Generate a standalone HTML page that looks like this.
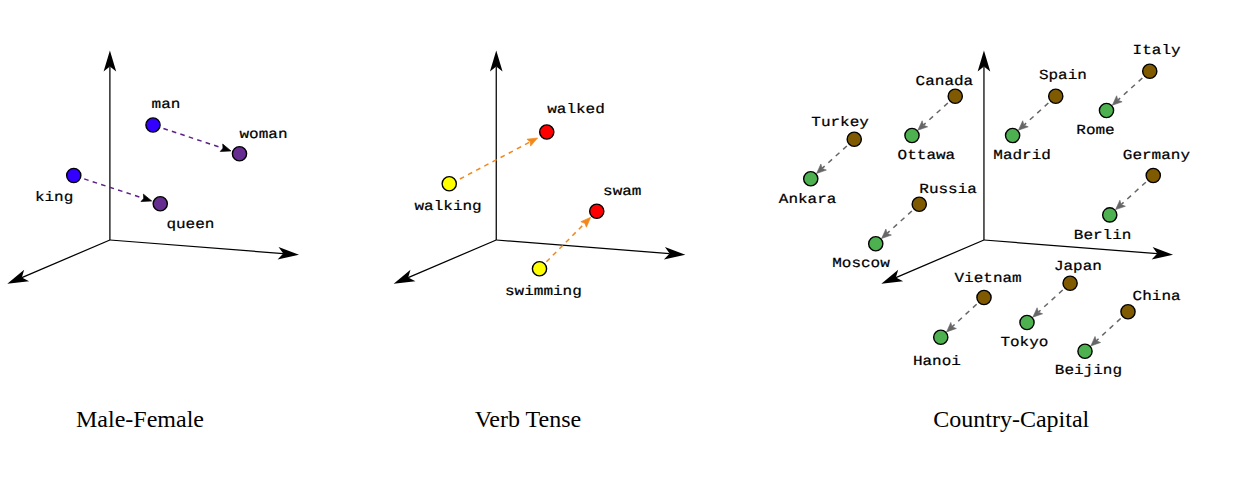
<!DOCTYPE html>
<html><head><meta charset="utf-8"><title>Word embedding analogies</title>
<style>
html,body{margin:0;padding:0;background:#fff;}
svg{display:block;}
.m{font-family:"Liberation Mono","DejaVu Sans Mono",monospace;font-size:16px;fill:#000;stroke:#000;stroke-width:0.25px;text-rendering:geometricPrecision;}
.t{font-family:"Liberation Serif","DejaVu Serif",serif;font-size:24px;fill:#000;}
</style></head><body>
<svg width="1249" height="483" viewBox="0 0 1249 483">
<rect width="1249" height="483" fill="#fff"/>
<line x1="109.90" y1="240.00" x2="109.90" y2="66.40" stroke="#000" stroke-width="1.25"/>
<polygon points="109.90,50.60 116.20,71.60 109.90,66.40 103.60,71.60" fill="#000"/>
<line x1="109.90" y1="240.00" x2="283.25" y2="253.57" stroke="#000" stroke-width="1.25"/>
<polygon points="299.00,254.80 277.57,259.44 283.25,253.57 278.56,246.88" fill="#000"/>
<line x1="109.90" y1="240.00" x2="21.83" y2="277.60" stroke="#000" stroke-width="1.25"/>
<polygon points="7.30,283.80 24.14,269.76 21.83,277.60 29.09,281.35" fill="#000"/>
<line x1="163.44" y1="128.47" x2="223.08" y2="148.29" stroke="#5c2088" stroke-width="1.5" stroke-dasharray="4.6 4.3"/>
<polygon points="230.96,150.91 220.24,151.46 223.08,148.29 222.70,144.06" fill="#000" stroke="#000" stroke-width="0.7" stroke-linejoin="miter"/>
<line x1="84.21" y1="178.91" x2="143.80" y2="198.38" stroke="#5c2088" stroke-width="1.5" stroke-dasharray="4.6 4.3"/>
<polygon points="151.69,200.96 140.98,201.56 143.80,198.38 143.40,194.14" fill="#000" stroke="#000" stroke-width="0.7" stroke-linejoin="miter"/>
<circle cx="153.00" cy="125.00" r="7.1" fill="#3300ff" stroke="#000" stroke-width="1.4"/>
<circle cx="73.75" cy="175.50" r="7.1" fill="#3300ff" stroke="#000" stroke-width="1.4"/>
<circle cx="239.50" cy="153.75" r="7.1" fill="#662d91" stroke="#000" stroke-width="1.4"/>
<circle cx="160.25" cy="203.75" r="7.1" fill="#662d91" stroke="#000" stroke-width="1.4"/>
<text transform="translate(166.00,108.00) scale(1,0.86)" text-anchor="middle" class="m">man</text>
<text transform="translate(263.50,138.25) scale(1,0.86)" text-anchor="middle" class="m">woman</text>
<text transform="translate(54.10,200.75) scale(1,0.86)" text-anchor="middle" class="m">king</text>
<text transform="translate(190.40,228.40) scale(1,0.86)" text-anchor="middle" class="m">queen</text>
<text x="76.00" y="426.60" class="t">Male-Female</text>
<line x1="496.25" y1="240.00" x2="496.25" y2="66.40" stroke="#000" stroke-width="1.25"/>
<polygon points="496.25,50.60 502.55,71.60 496.25,66.40 489.95,71.60" fill="#000"/>
<line x1="496.25" y1="240.00" x2="669.60" y2="253.57" stroke="#000" stroke-width="1.25"/>
<polygon points="685.35,254.80 663.92,259.44 669.60,253.57 664.91,246.88" fill="#000"/>
<line x1="496.25" y1="240.00" x2="408.18" y2="277.60" stroke="#000" stroke-width="1.25"/>
<polygon points="393.65,283.80 410.49,269.76 408.18,277.60 415.44,281.35" fill="#000"/>
<line x1="459.90" y1="179.00" x2="530.26" y2="141.87" stroke="#f3871a" stroke-width="1.5" stroke-dasharray="4.7 4.5"/>
<polygon points="537.60,138.00 530.58,146.12 530.26,141.87 526.94,139.22" fill="#f3871a" stroke="#f3871a" stroke-width="0.7" stroke-linejoin="miter"/>
<line x1="546.41" y1="261.81" x2="584.83" y2="223.23" stroke="#f3871a" stroke-width="1.5" stroke-dasharray="4.7 4.5"/>
<polygon points="590.68,217.34 586.39,227.18 584.83,223.23 580.86,221.68" fill="#f3871a" stroke="#f3871a" stroke-width="0.7" stroke-linejoin="miter"/>
<circle cx="546.75" cy="132.00" r="7.1" fill="#ff0000" stroke="#000" stroke-width="1.4"/>
<circle cx="596.75" cy="211.25" r="7.1" fill="#ff0000" stroke="#000" stroke-width="1.4"/>
<circle cx="449.25" cy="183.75" r="7.1" fill="#ffff00" stroke="#000" stroke-width="1.4"/>
<circle cx="539.50" cy="268.75" r="7.1" fill="#ffff00" stroke="#000" stroke-width="1.4"/>
<text transform="translate(576.00,113.25) scale(1,0.86)" text-anchor="middle" class="m">walked</text>
<text transform="translate(448.10,209.50) scale(1,0.86)" text-anchor="middle" class="m">walking</text>
<text transform="translate(622.25,194.50) scale(1,0.86)" text-anchor="middle" class="m">swam</text>
<text transform="translate(543.40,295.00) scale(1,0.86)" text-anchor="middle" class="m">swimming</text>
<text x="474.70" y="426.60" class="t">Verb Tense</text>
<line x1="983.95" y1="240.00" x2="983.95" y2="66.40" stroke="#000" stroke-width="1.25"/>
<polygon points="983.95,50.60 990.25,71.60 983.95,66.40 977.65,71.60" fill="#000"/>
<line x1="983.95" y1="240.00" x2="1157.30" y2="253.57" stroke="#000" stroke-width="1.25"/>
<polygon points="1173.05,254.80 1151.62,259.44 1157.30,253.57 1152.61,246.88" fill="#000"/>
<line x1="983.95" y1="240.00" x2="895.88" y2="277.60" stroke="#000" stroke-width="1.25"/>
<polygon points="881.35,283.80 898.19,269.76 895.88,277.60 903.14,281.35" fill="#000"/>
<line x1="947.84" y1="102.97" x2="923.40" y2="125.15" stroke="#666666" stroke-width="1.5" stroke-dasharray="5 5"/>
<polygon points="917.85,130.19 922.13,120.77 923.40,125.15 927.64,126.84" fill="#666666" stroke="#666666" stroke-width="0.6" stroke-linejoin="miter"/>
<line x1="1048.35" y1="102.98" x2="1023.99" y2="125.14" stroke="#666666" stroke-width="1.5" stroke-dasharray="5 5"/>
<polygon points="1018.44,130.18 1022.71,120.76 1023.99,125.14 1028.23,126.82" fill="#666666" stroke="#666666" stroke-width="0.6" stroke-linejoin="miter"/>
<line x1="1142.34" y1="77.97" x2="1117.90" y2="100.15" stroke="#666666" stroke-width="1.5" stroke-dasharray="5 5"/>
<polygon points="1112.35,105.19 1116.63,95.77 1117.90,100.15 1122.14,101.84" fill="#666666" stroke="#666666" stroke-width="0.6" stroke-linejoin="miter"/>
<line x1="846.85" y1="145.97" x2="822.15" y2="168.40" stroke="#666666" stroke-width="1.5" stroke-dasharray="5 5"/>
<polygon points="816.60,173.44 820.88,164.02 822.15,168.40 826.39,170.09" fill="#666666" stroke="#666666" stroke-width="0.6" stroke-linejoin="miter"/>
<line x1="911.85" y1="210.97" x2="887.15" y2="233.40" stroke="#666666" stroke-width="1.5" stroke-dasharray="5 5"/>
<polygon points="881.60,238.44 885.88,229.02 887.15,233.40 891.39,235.09" fill="#666666" stroke="#666666" stroke-width="0.6" stroke-linejoin="miter"/>
<line x1="1145.84" y1="182.21" x2="1121.16" y2="204.56" stroke="#666666" stroke-width="1.5" stroke-dasharray="5 5"/>
<polygon points="1115.61,209.60 1119.89,200.18 1121.16,204.56 1125.40,206.26" fill="#666666" stroke="#666666" stroke-width="0.6" stroke-linejoin="miter"/>
<line x1="976.64" y1="304.27" x2="952.09" y2="326.83" stroke="#666666" stroke-width="1.5" stroke-dasharray="5 5"/>
<polygon points="946.57,331.90 950.79,322.46 952.09,326.83 956.34,328.49" fill="#666666" stroke="#666666" stroke-width="0.6" stroke-linejoin="miter"/>
<line x1="1062.71" y1="289.98" x2="1038.39" y2="312.13" stroke="#666666" stroke-width="1.5" stroke-dasharray="5 5"/>
<polygon points="1032.84,317.18 1037.10,307.75 1038.39,312.13 1042.63,313.82" fill="#666666" stroke="#666666" stroke-width="0.6" stroke-linejoin="miter"/>
<line x1="1120.64" y1="318.51" x2="1096.34" y2="340.83" stroke="#666666" stroke-width="1.5" stroke-dasharray="5 5"/>
<polygon points="1090.82,345.91 1095.04,336.46 1096.34,340.83 1100.59,342.50" fill="#666666" stroke="#666666" stroke-width="0.6" stroke-linejoin="miter"/>
<circle cx="955.25" cy="96.25" r="7.1" fill="#7f5a00" stroke="#000" stroke-width="1.4"/>
<circle cx="912.00" cy="135.50" r="7.1" fill="#4db14f" stroke="#000" stroke-width="1.4"/>
<circle cx="1055.75" cy="96.25" r="7.1" fill="#7f5a00" stroke="#000" stroke-width="1.4"/>
<circle cx="1012.60" cy="135.50" r="7.1" fill="#4db14f" stroke="#000" stroke-width="1.4"/>
<circle cx="1149.75" cy="71.25" r="7.1" fill="#7f5a00" stroke="#000" stroke-width="1.4"/>
<circle cx="1106.50" cy="110.50" r="7.1" fill="#4db14f" stroke="#000" stroke-width="1.4"/>
<circle cx="854.25" cy="139.25" r="7.1" fill="#7f5a00" stroke="#000" stroke-width="1.4"/>
<circle cx="810.75" cy="178.75" r="7.1" fill="#4db14f" stroke="#000" stroke-width="1.4"/>
<circle cx="919.25" cy="204.25" r="7.1" fill="#7f5a00" stroke="#000" stroke-width="1.4"/>
<circle cx="875.75" cy="243.75" r="7.1" fill="#4db14f" stroke="#000" stroke-width="1.4"/>
<circle cx="1153.25" cy="175.50" r="7.1" fill="#7f5a00" stroke="#000" stroke-width="1.4"/>
<circle cx="1109.75" cy="214.90" r="7.1" fill="#4db14f" stroke="#000" stroke-width="1.4"/>
<circle cx="984.00" cy="297.50" r="7.1" fill="#7f5a00" stroke="#000" stroke-width="1.4"/>
<circle cx="940.75" cy="337.25" r="7.1" fill="#4db14f" stroke="#000" stroke-width="1.4"/>
<circle cx="1070.10" cy="283.25" r="7.1" fill="#7f5a00" stroke="#000" stroke-width="1.4"/>
<circle cx="1027.00" cy="322.50" r="7.1" fill="#4db14f" stroke="#000" stroke-width="1.4"/>
<circle cx="1128.00" cy="311.75" r="7.1" fill="#7f5a00" stroke="#000" stroke-width="1.4"/>
<circle cx="1085.00" cy="351.25" r="7.1" fill="#4db14f" stroke="#000" stroke-width="1.4"/>
<text transform="translate(944.40,85.00) scale(1,0.86)" text-anchor="middle" class="m">Canada</text>
<text transform="translate(840.10,126.25) scale(1,0.86)" text-anchor="middle" class="m">Turkey</text>
<text transform="translate(1062.90,78.75) scale(1,0.86)" text-anchor="middle" class="m">Spain</text>
<text transform="translate(1156.60,53.75) scale(1,0.86)" text-anchor="middle" class="m">Italy</text>
<text transform="translate(1095.50,133.60) scale(1,0.86)" text-anchor="middle" class="m">Rome</text>
<text transform="translate(926.40,159.25) scale(1,0.86)" text-anchor="middle" class="m">Ottawa</text>
<text transform="translate(1022.10,159.25) scale(1,0.86)" text-anchor="middle" class="m">Madrid</text>
<text transform="translate(807.60,203.00) scale(1,0.86)" text-anchor="middle" class="m">Ankara</text>
<text transform="translate(948.10,192.50) scale(1,0.86)" text-anchor="middle" class="m">Russia</text>
<text transform="translate(1156.40,158.75) scale(1,0.86)" text-anchor="middle" class="m">Germany</text>
<text transform="translate(1102.60,239.25) scale(1,0.86)" text-anchor="middle" class="m">Berlin</text>
<text transform="translate(861.00,267.00) scale(1,0.86)" text-anchor="middle" class="m">Moscow</text>
<text transform="translate(988.10,282.00) scale(1,0.86)" text-anchor="middle" class="m">Vietnam</text>
<text transform="translate(1077.90,269.50) scale(1,0.86)" text-anchor="middle" class="m">Japan</text>
<text transform="translate(1156.60,300.00) scale(1,0.86)" text-anchor="middle" class="m">China</text>
<text transform="translate(936.90,365.00) scale(1,0.86)" text-anchor="middle" class="m">Hanoi</text>
<text transform="translate(1024.40,345.50) scale(1,0.86)" text-anchor="middle" class="m">Tokyo</text>
<text transform="translate(1088.40,373.75) scale(1,0.86)" text-anchor="middle" class="m">Beijing</text>
<text x="933.30" y="426.60" class="t">Country-Capital</text>
</svg>
</body></html>
